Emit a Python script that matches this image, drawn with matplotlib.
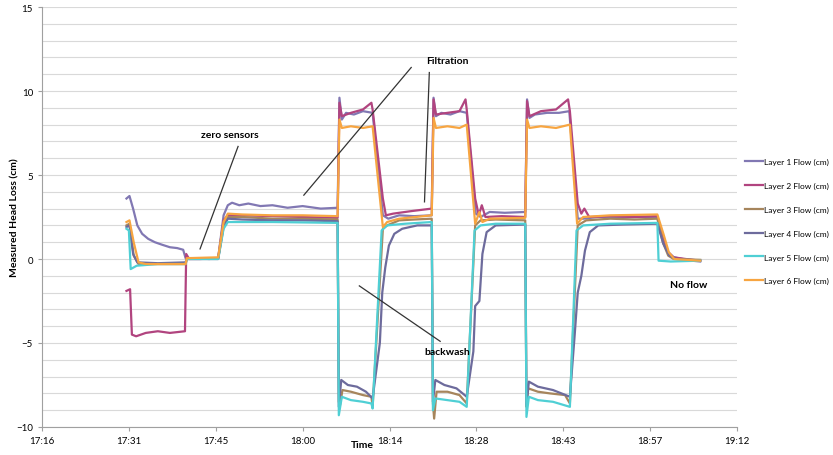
import matplotlib
matplotlib.use("Agg")
import matplotlib.pyplot as plt

# time axis: minutes after 16:40, head loss in cm
layer1 = [(50.8, 3.6), (51.3, 3.75), (51.9, 3.0), (52.6, 2.0), (53.4, 1.5), (54.4, 1.2), (55.5, 1.0),
          (56.7, 0.85), (58.0, 0.7), (59.2, 0.65), (60.2, 0.55), (60.6, 0.05), (62.5, 0.05), (64.5, 0.0),
          (66.0, 0.05), (66.9, 2.6), (67.6, 3.2), (68.3, 3.35), (69.5, 3.2), (71.0, 3.3), (73.0, 3.15),
          (75.0, 3.2), (77.5, 3.05), (80.0, 3.15), (83.0, 3.0), (85.8, 3.05),
          (86.1, 9.6), (86.5, 8.3), (87.2, 8.7), (88.5, 8.6), (90.0, 8.8), (91.6, 8.7), (93.3, 2.6),
          (94.2, 2.4), (96.0, 2.6), (98.5, 2.55), (101.4, 2.6),
          (101.7, 9.6), (102.1, 8.5), (103.0, 8.7), (104.5, 8.6), (106.0, 8.8), (107.2, 8.7), (108.7, 2.7),
          (109.5, 2.5), (111.0, 2.8), (113.5, 2.75), (116.9, 2.8),
          (117.2, 9.5), (117.6, 8.4), (118.5, 8.6), (120.5, 8.7), (122.5, 8.7), (124.2, 8.8), (125.6, 2.4),
          (126.5, 2.4), (129.0, 2.5), (132.0, 2.45), (135.5, 2.5), (138.8, 2.5), (139.7, 1.2), (140.6, 0.4),
          (141.5, 0.1), (143.0, 0.0), (144.5, -0.1), (145.9, -0.15)]
layer2 = [(50.8, -1.9), (51.4, -1.8), (51.7, -4.5), (52.4, -4.6), (54.0, -4.4), (56.0, -4.3), (58.0, -4.4),
          (60.5, -4.3), (60.7, 0.3), (61.2, 0.0), (63.0, 0.0), (66.0, 0.05), (66.9, 2.3), (67.6, 2.6),
          (70.0, 2.6), (75.0, 2.55), (80.0, 2.5), (85.8, 2.45),
          (86.1, 9.3), (86.5, 8.5), (88.0, 8.7), (90.0, 8.9), (91.4, 9.3), (91.6, 8.9), (93.3, 3.6),
          (93.8, 2.6), (95.0, 2.7), (98.0, 2.85), (101.4, 3.0),
          (101.7, 9.5), (102.1, 8.6), (104.0, 8.7), (106.0, 8.8), (107.0, 9.5), (107.2, 8.9), (108.6, 3.6),
          (109.2, 2.6), (109.7, 3.2), (110.3, 2.5), (113.0, 2.55), (116.9, 2.5),
          (117.2, 9.4), (117.6, 8.5), (119.5, 8.8), (122.0, 8.9), (124.0, 9.5), (124.3, 8.8), (125.6, 3.3),
          (126.2, 2.7), (126.7, 3.0), (127.5, 2.5), (131.0, 2.55), (135.0, 2.5), (138.8, 2.55), (139.7, 1.3),
          (140.6, 0.4), (141.5, 0.1), (143.5, 0.0), (145.9, -0.1)]
layer3 = [(50.8, 2.0), (51.3, 2.1), (52.0, 0.2), (52.8, -0.3), (56.0, -0.3), (60.6, -0.3), (60.8, 0.0),
          (66.0, 0.05), (66.9, 2.0), (67.6, 2.5), (70.0, 2.5), (75.0, 2.4), (80.0, 2.4), (85.8, 2.35),
          (86.0, -8.5), (86.2, -8.7), (86.6, -7.8), (88.0, -7.9), (90.0, -8.1), (91.4, -8.2), (91.6, -8.8),
          (93.3, 1.8), (94.0, 2.0), (96.0, 2.3), (98.5, 2.35), (101.4, 2.4),
          (101.6, -8.6), (101.8, -9.5), (102.2, -7.9), (104.0, -7.9), (106.0, -8.1), (107.2, -8.6),
          (108.6, 2.0), (109.5, 2.3), (112.0, 2.35), (116.9, 2.3),
          (117.1, -8.8), (117.4, -7.7), (119.0, -7.9), (121.0, -8.0), (123.5, -8.1), (124.3, -8.6),
          (125.6, 2.0), (127.0, 2.3), (131.0, 2.4), (135.0, 2.35), (138.8, 2.4), (139.7, 1.0), (140.6, 0.2),
          (141.5, 0.0), (145.9, -0.05)]
layer4 = [(50.8, 1.9), (51.3, 2.0), (51.9, 0.3), (52.6, -0.2), (56.0, -0.25), (60.6, -0.2), (60.8, 0.0),
          (66.0, 0.0), (66.9, 1.9), (67.6, 2.4), (70.0, 2.35), (75.0, 2.3), (80.0, 2.3), (85.8, 2.25),
          (86.0, -8.8), (86.4, -7.2), (87.5, -7.5), (89.0, -7.6), (90.5, -7.9), (91.6, -8.3), (92.8, -5.0),
          (93.2, -2.0), (93.7, -0.5), (94.3, 0.8), (95.2, 1.5), (96.5, 1.8), (99.0, 2.0), (101.4, 2.0),
          (101.6, -8.5), (102.0, -7.2), (103.5, -7.5), (105.5, -7.7), (107.2, -8.2), (108.3, -5.5),
          (108.6, -2.8), (109.3, -2.5), (109.8, 0.3), (110.5, 1.6), (112.0, 2.0), (116.9, 2.05),
          (117.1, -8.7), (117.5, -7.3), (119.0, -7.6), (121.5, -7.8), (124.3, -8.2), (125.1, -4.5),
          (125.6, -2.0), (126.2, -1.0), (126.8, 0.5), (127.6, 1.6), (129.0, 2.0), (133.0, 2.05), (138.8, 2.1),
          (139.8, 0.9), (140.8, 0.2), (142.0, 0.0), (145.9, -0.1)]
layer5 = [(50.8, 1.8), (51.2, 1.7), (51.5, -0.6), (52.5, -0.4), (56.0, -0.3), (60.6, -0.3), (60.8, 0.0),
          (66.0, 0.0), (66.9, 1.8), (67.6, 2.2), (75.0, 2.2), (85.8, 2.15),
          (86.0, -9.3), (86.5, -8.2), (88.0, -8.4), (90.0, -8.5), (91.4, -8.6), (91.6, -8.9), (93.1, 1.7),
          (94.0, 2.0), (97.0, 2.1), (101.4, 2.2),
          (101.6, -9.0), (102.0, -8.3), (104.0, -8.4), (106.0, -8.5), (107.2, -8.8), (108.5, 1.7),
          (109.5, 2.0), (112.0, 2.1), (116.9, 2.1),
          (117.1, -9.4), (117.5, -8.2), (119.0, -8.4), (121.5, -8.5), (124.3, -8.8), (125.4, 1.7),
          (126.5, 2.0), (131.0, 2.1), (138.8, 2.15), (139.0, -0.1), (141.0, -0.15), (145.9, -0.1)]
layer6 = [(50.8, 2.2), (51.3, 2.3), (52.0, 1.0), (52.8, -0.2), (54.0, -0.3), (60.6, -0.3), (60.8, 0.05),
          (66.0, 0.1), (66.9, 2.2), (67.6, 2.7), (70.0, 2.65), (75.0, 2.6), (80.0, 2.6), (85.8, 2.55),
          (86.1, 8.3), (86.5, 7.8), (88.0, 7.9), (90.0, 7.8), (91.6, 7.9), (93.3, 1.9), (94.0, 2.2),
          (96.0, 2.4), (101.4, 2.6),
          (101.7, 8.4), (102.1, 7.8), (104.0, 7.9), (106.0, 7.8), (107.2, 8.0), (108.6, 2.1), (109.3, 2.8),
          (109.8, 2.2), (111.0, 2.4), (116.9, 2.45),
          (117.2, 8.3), (117.6, 7.8), (119.5, 7.9), (122.0, 7.8), (124.3, 8.0), (125.5, 2.1), (126.5, 2.5),
          (131.0, 2.6), (138.8, 2.65), (139.8, 1.5), (140.7, 0.4), (141.6, 0.0), (145.9, -0.1)]

labels = ["Layer 1 Flow (cm)", "Layer 2 Flow (cm)", "Layer 3 Flow (cm)",
          "Layer 4 Flow (cm)", "Layer 5 Flow (cm)", "Layer 6 Flow (cm)"]
colors = ["#8178b3", "#b1447f", "#a6855c", "#6d6b9c", "#4fcfd4", "#f7a541"]
tick_pos = [36.8, 51.2, 65.6, 80.0, 94.4, 108.8, 123.2, 137.6, 152.0]
tick_lab = ["17:16", "17:31", "17:45", "18:00", "18:14", "18:28", "18:43", "18:57", "19:12"]

plt.rcParams['font.family'] = ['Lato', 'DejaVu Sans']

fig = plt.figure(figsize=(8.33, 4.56), dpi=100)
ax = fig.add_axes([42/833, 1-428/456, 695/833, 420/456])

for series, lab, c in zip([layer1, layer2, layer3, layer4, layer5, layer6], labels, colors):
    t = [p[0] for p in series]
    v = [p[1] for p in series]
    ax.plot(t, v, color=c, lw=1.6, label=lab)

ax.set_xlim(tick_pos[0], tick_pos[-1])
ax.set_ylim(-10, 15)
ax.set_xticks(tick_pos)
ax.set_xticklabels(tick_lab, fontsize=7)
ax.set_yticks(range(-10, 16, 5))
ax.set_yticks(range(-10, 16, 1), minor=True)
ax.tick_params(axis='y', which='minor', length=0)
ax.tick_params(axis='both', which='major', labelsize=7, color='#a0a0a0', length=3)
ax.grid(axis='y', which='both', color='#d9d9d9', lw=0.8)
ax.set_axisbelow(True)
for s in ['top', 'right']:
    ax.spines[s].set_visible(False)
for s in ['left', 'bottom']:
    ax.spines[s].set_color('#a0a0a0')

ax.set_xlabel("Time", fontsize=7.5, fontweight='bold')
ax.xaxis.set_label_coords((362-42)/695, -0.032)
ax.set_ylabel("Measured Head Loss (cm)", fontsize=7.5, fontweight='bold')
ax.yaxis.set_label_coords(-(42-15)/695, 0.5)
ax.yaxis.label.set_va('center')

ax.legend(loc='center left', bbox_to_anchor=(1.0, 0.49), frameon=False, fontsize=6,
          handlelength=2.2, handletextpad=0.2, labelspacing=2.0)

# annotations
kw = dict(fontsize=7.5, fontweight='bold', ha='center', va='center')
ax.text(68.0, 7.4, "zero sensors", **kw)
ax.text(104.0, 11.8, "Filtration", **kw)
ax.text(104.0, -5.5, "backwash", **kw)
ax.text(144.0, -1.5, "No flow", **kw)
lc = dict(color='#333333', lw=0.9)
ax.plot([69.3, 63.0], [6.7, 0.6], **lc)
ax.plot([98.0, 80.2], [11.4, 3.8], **lc)
ax.plot([101.0, 100.2], [11.1, 3.4], **lc)
ax.plot([89.4, 102.8], [-1.6, -4.9], **lc)

fig.savefig("out.png", dpi=100)
